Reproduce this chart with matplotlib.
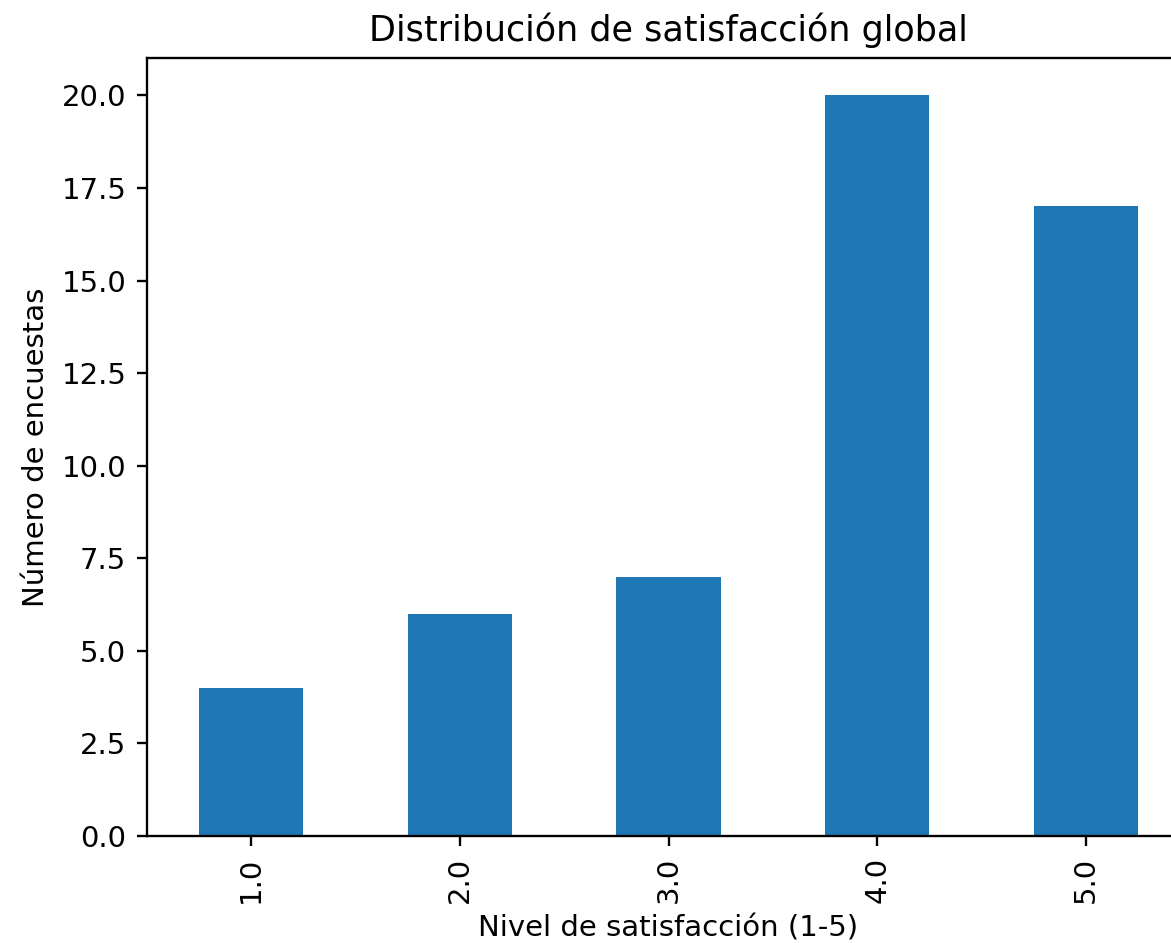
import matplotlib
matplotlib.use('Agg')
import matplotlib.pyplot as plt
import pandas as pd

niveles = [1.0, 2.0, 3.0, 4.0, 5.0]
conteos = [4, 6, 7, 20, 17]

serie = pd.Series(conteos, index=niveles)

dpi = 210
W, H = 1171, 943
fig = plt.figure(figsize=(W / dpi, H / dpi), dpi=dpi)
# axes box in pixels: left 146.7, right 1190.4 (cut off past the edge), top 58.3, bottom 836
ax = fig.add_axes([146.7 / W, 1 - 836 / H, (1190.4 - 146.7) / W, (836 - 58.3) / H])
serie.plot(kind='bar', ax=ax, color='#1f77b4')

ax.set_title('Distribución de satisfacción global')
ax.set_xlabel('Nivel de satisfacción (1-5)')
ax.set_ylabel('Número de encuestas')

fig.savefig('out.png', dpi=dpi)
